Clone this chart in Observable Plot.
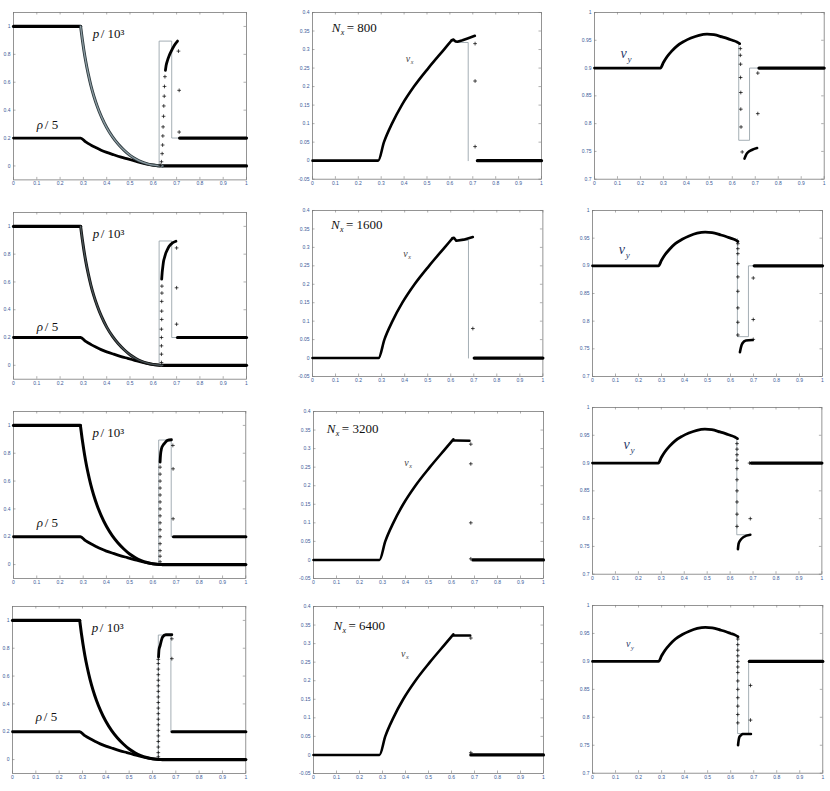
<!DOCTYPE html>
<html><head><meta charset="utf-8">
<script src="https://cdn.jsdelivr.net/npm/d3@7"></script>
<script src="https://cdn.jsdelivr.net/npm/@observablehq/plot@0.6"></script>
<style>
body{margin:0;background:#fff;}
#fig{position:relative;width:830px;height:791px;overflow:hidden;background:#fff;}
#fig svg{position:absolute;}
</style></head><body><div id="fig"></div>
<script>
// ---------- tick values and labels ----------
const xTicks = [0,0.1,0.2,0.3,0.4,0.5,0.6,0.7,0.8,0.9,1];
const xTickLabels = ["0","0.1","0.2","0.3","0.4","0.5","0.6","0.7","0.8","0.9","1"];
const rpTicks = [0,0.2,0.4,0.6,0.8,1];
const rpTickLabels = ["0","0.2","0.4","0.6","0.8","1"];
const vxTicks = [-0.05,0,0.05,0.1,0.15,0.2,0.25,0.3,0.35,0.4];
const vxTickLabels = ["-0.05","0","0.05","0.1","0.15","0.2","0.25","0.3","0.35","0.4"];
const vyTicks = [0.7,0.75,0.8,0.85,0.9,0.95,1];
const vyTickLabels = ["0.7","0.75","0.8","0.85","0.9","0.95","1"];
const resolutions = ["800","1600","3200","6400"];

// ---------- column 1: p/10^3 and rho/5 ----------
const pFlatLeft = [[0,1],[0.288,1]];
const pRarefaction = [[0.288,1],[0.295,0.91],[0.302,0.83],[0.31,0.75],[0.32,0.665],[0.332,0.578],[0.345,0.5],[0.36,0.425],[0.378,0.35],[0.4,0.275],[0.425,0.208],[0.45,0.155],[0.475,0.112],[0.5,0.076],[0.525,0.049],[0.55,0.029],[0.575,0.015],[0.6,0.006],[0.62,0.002],[0.64,0]];
const pFlatRight = [[0.64,0],[1,0]];
const rhoCurve = [[0,0.2],[0.288,0.2],[0.31,0.172],[0.333,0.149],[0.355,0.13],[0.376,0.113],[0.4,0.097],[0.43,0.08],[0.462,0.063],[0.49,0.05],[0.52,0.036],[0.55,0.022],[0.577,0.012],[0.6,0.005],[0.62,0.001],[0.628,0]];
const rhoExact = [[0.625,0],[0.625,0.895],[0.679,0.895],[0.679,0.2],[0.715,0.2]];

const rhoShell800 = [[0.652,0.685],[0.655,0.72],[0.661,0.757],[0.668,0.79],[0.675,0.816],[0.69,0.864],[0.704,0.895]];
const rhoMarks800 = [[0.63,0.005],[0.635,0.03],[0.638,0.088],[0.64,0.15],[0.641,0.215],[0.642,0.28],[0.644,0.356],[0.645,0.43],[0.647,0.5],[0.648,0.57],[0.65,0.64],[0.708,0.823],[0.711,0.542],[0.711,0.243]];
const rhoPost800 = [[0.713,0.2],[1,0.2]];

const rhoShell1600 = [[0.636,0.62],[0.638,0.666],[0.641,0.71],[0.644,0.749],[0.649,0.78],[0.654,0.809],[0.661,0.835],[0.668,0.857],[0.682,0.881],[0.697,0.893]];
const rhoMarks1600 = [[0.635,0.02],[0.635,0.08],[0.635,0.14],[0.635,0.2],[0.635,0.26],[0.636,0.33],[0.636,0.39],[0.636,0.46],[0.637,0.52],[0.637,0.57],[0.7,0.845],[0.7,0.558],[0.7,0.296]];
const rhoPost1600 = [[0.704,0.2],[1,0.2]];

const rhoShell3200 = [[0.631,0.736],[0.633,0.79],[0.637,0.832],[0.644,0.858],[0.651,0.873],[0.663,0.892],[0.68,0.897]];
const rhoMarks3200 = [[0.631,0.02],[0.631,0.06],[0.631,0.1],[0.631,0.15],[0.631,0.2],[0.631,0.25],[0.631,0.3],[0.631,0.35],[0.631,0.4],[0.631,0.45],[0.631,0.5],[0.631,0.55],[0.631,0.6],[0.631,0.65],[0.631,0.7],[0.686,0.856],[0.687,0.688],[0.687,0.329]];
const rhoPost3200 = [[0.689,0.2],[1,0.2]];

const rhoShell6400 = [[0.626,0.737],[0.628,0.79],[0.633,0.82],[0.638,0.855],[0.643,0.88],[0.657,0.897],[0.683,0.897]];
const rhoMarks6400 = [[0.625,0.02],[0.625,0.05],[0.625,0.09],[0.625,0.13],[0.625,0.17],[0.625,0.21],[0.625,0.25],[0.625,0.29],[0.625,0.33],[0.625,0.37],[0.625,0.41],[0.625,0.45],[0.625,0.49],[0.625,0.53],[0.625,0.57],[0.625,0.61],[0.625,0.65],[0.625,0.69],[0.625,0.72],[0.683,0.868],[0.683,0.725]];
const rhoPost6400 = [[0.684,0.2],[1,0.2]];

// ---------- column 2: v_x ----------
const vxCurve = [[0,0],[0.287,0],[0.312,0.05],[0.347,0.1],[0.39,0.15],[0.443,0.2],[0.506,0.25],[0.574,0.3],[0.608,0.325]];
const vxShell800 = [[0.608,0.325],[0.616,0.327],[0.624,0.322],[0.633,0.321],[0.655,0.325],[0.677,0.33],[0.709,0.337]];
const vxMarks800 = [[0.71,0.316],[0.71,0.215],[0.71,0.038]];
const vxPost800 = [[0.72,0],[1,0]];
const vxExact800 = [[0.633,0.319],[0.68,0.319],[0.68,0]];

const vxShell1600 = [[0.608,0.325],[0.614,0.326],[0.624,0.318],[0.656,0.321],[0.696,0.328]];
const vxMarks1600 = [[0.696,0.08]];
const vxPost1600 = [[0.702,0],[1,0]];
const vxExact1600 = [[0.628,0.319],[0.677,0.319],[0.677,0]];

const vxShell3200 = [[0.608,0.322],[0.62,0.322],[0.678,0.321]];
const vxMarks3200 = [[0.684,0.312],[0.684,0.259],[0.684,0.1],[0.684,0.003]];
const vxPost3200 = [[0.693,0],[1,0]];

const vxShell6400 = [[0.608,0.322],[0.62,0.322],[0.681,0.322]];
const vxMarks6400 = [[0.684,0.315],[0.684,0.006]];
const vxPost6400 = [[0.684,0],[1,0]];

// ---------- column 3: v_y ----------
const vyCurve = [[0,0.9],[0.287,0.9],[0.3,0.91],[0.315,0.92],[0.335,0.93],[0.36,0.94],[0.39,0.948],[0.42,0.954],[0.455,0.959],[0.49,0.961],[0.52,0.96],[0.556,0.956],[0.58,0.953],[0.6,0.95],[0.62,0.947],[0.632,0.944]];

const vyLower800 = [[0.653,0.737],[0.658,0.742],[0.665,0.747],[0.687,0.753],[0.708,0.756]];
const vyMarks800 = [[0.635,0.935],[0.635,0.923],[0.636,0.907],[0.636,0.883],[0.637,0.856],[0.637,0.826],[0.638,0.794],[0.643,0.749],[0.711,0.891],[0.711,0.818]];
const vyPost800 = [[0.716,0.9],[1,0.9]];
const vyExact800 = [[0.628,0.945],[0.628,0.77],[0.675,0.77],[0.675,0.9],[0.716,0.9]];

const vyLower1600 = [[0.641,0.744],[0.645,0.752],[0.652,0.76],[0.667,0.765],[0.696,0.766]];
const vyMarks1600 = [[0.632,0.94],[0.632,0.931],[0.632,0.922],[0.632,0.904],[0.632,0.88],[0.632,0.854],[0.632,0.824],[0.632,0.798],[0.632,0.775],[0.699,0.878],[0.699,0.803],[0.699,0.767]];
const vyPost1600 = [[0.703,0.9],[1,0.9]];
const vyExact1600 = [[0.63,0.949],[0.63,0.772],[0.678,0.772],[0.678,0.9],[0.703,0.9]];

const vyLower3200 = [[0.634,0.745],[0.637,0.755],[0.644,0.761],[0.659,0.767],[0.688,0.771]];
const vyMarks3200 = [[0.63,0.935],[0.63,0.925],[0.63,0.915],[0.63,0.905],[0.63,0.89],[0.63,0.87],[0.63,0.85],[0.63,0.83],[0.63,0.808],[0.63,0.786],[0.688,0.8],[0.685,0.9]];
const vyPost3200 = [[0.692,0.9],[1,0.9]];
const vyExact3200 = [[0.629,0.946],[0.629,0.771],[0.688,0.771]];

const vyLower6400 = [[0.632,0.75],[0.635,0.76],[0.638,0.765],[0.645,0.768],[0.652,0.77],[0.688,0.77]];
const vyMarks6400 = [[0.631,0.94],[0.631,0.93],[0.631,0.92],[0.631,0.91],[0.631,0.9],[0.631,0.89],[0.631,0.88],[0.631,0.865],[0.631,0.85],[0.631,0.835],[0.631,0.82],[0.631,0.805],[0.631,0.79],[0.686,0.857],[0.686,0.795]];
const vyPost6400 = [[0.681,0.9],[1,0.9]];
const vyExact6400 = [[0.63,0.946],[0.63,0.771],[0.678,0.771],[0.678,0.9]];

// ---------- layout (pixel frames of each panel: left, right, top, bottom) ----------
const frames = [
  [[12.7,245.7,12.3,179.7],[311.7,540.7,12.3,179],[594,823.7,12.3,179]],
  [[12.7,245.7,212.3,379],[312.3,542.7,210,376],[591.7,821.7,210,376]],
  [[12.7,245,411,578],[313.3,543.3,411,578],[592.3,821.7,407.3,574]],
  [[11.7,245,606,773],[313.3,543.3,606,773],[591.7,822,605,772.7]]
];
const COL = {tick:"#3b5a98", frame:"#7a7a7a", exact:"#8e9aa2"};
const SERIF = "Liberation Serif, Times New Roman, serif";
const pStyle = [{outer:"#2e3a3e", inner:"#8c9ca3"},{outer:"#111", inner:"#4a5558"},{outer:"#000"},{outer:"#000"}];

const fig = document.getElementById("fig");
const X = d => d[0], Y = d => d[1];

function makePanel(frame, cfg) {
  const [L,R,T,B] = frame;
  const ml = Math.min(26, Math.floor(L)), mr = 4, mt = 4, mb = 10;
  const iw = R - L, ih = B - T, tk = 2.5;
  const marks = [
    Plot.ruleX(xTicks, {x: d => d, insetTop: ih - tk, stroke: COL.frame, strokeWidth: 0.6}),
    Plot.ruleX(xTicks, {x: d => d, insetBottom: ih - tk, stroke: COL.frame, strokeWidth: 0.6}),
    Plot.ruleY(cfg.yTicks, {y: d => d, insetRight: iw - tk, stroke: COL.frame, strokeWidth: 0.6}),
    Plot.ruleY(cfg.yTicks, {y: d => d, insetLeft: iw - tk, stroke: COL.frame, strokeWidth: 0.6}),
    Plot.frame({stroke: COL.frame, strokeWidth: 0.8}),
    Plot.axisX(xTicks, {tickSize: 0, tickPadding: 2, fontSize: 5, color: COL.tick, label: null, fontFamily: "Liberation Sans, Arial, sans-serif",
      tickFormat: d => xTickLabels[xTicks.indexOf(d)]}),
    Plot.axisY(cfg.yTicks, {tickSize: 0, tickPadding: 3, fontSize: 5, color: COL.tick, label: null, fontFamily: "Liberation Sans, Arial, sans-serif",
      tickFormat: d => cfg.yLabels[cfg.yTicks.indexOf(d)]})
  ];
  for (const e of cfg.exact) marks.push(Plot.line(e, {x: X, y: Y, stroke: COL.exact, strokeWidth: 0.8}));
  for (const s of cfg.lines) {
    marks.push(Plot.line(s.data, {x: X, y: Y, stroke: s.stroke || "#000", strokeWidth: s.w || 3, curve: s.curve || "linear", strokeLinejoin: "round"}));
    if (s.inner) marks.push(Plot.line(s.data, {x: X, y: Y, stroke: s.inner, strokeWidth: 1.3, curve: s.curve || "linear"}));
  }
  for (const m of cfg.marks) marks.push(Plot.dot(m, {x: X, y: Y, symbol: "plus", r: 1.3, stroke: "#000", strokeWidth: 0.7}));
  for (const t of cfg.texts) marks.push(Plot.text([t.text], {x: () => t.x, y: () => t.y, text: d => d, dx: t.dx || 0, dy: t.dy || 0,
      fontSize: t.size, fontFamily: SERIF, fontStyle: t.italic ? "italic" : "normal", textAnchor: "start", lineAnchor: "bottom", fill: t.fill || "#111"}));
  const svg = Plot.plot({
    width: iw + ml + mr, height: ih + mt + mb,
    marginLeft: ml, marginRight: mr, marginTop: mt, marginBottom: mb,
    x: {domain: [0, 1]}, y: {domain: cfg.yDomain},
    style: {background: "transparent", overflow: "visible"},
    marks
  });
  svg.style.position = "absolute";
  svg.style.left = (L - ml) + "px";
  svg.style.top = (T - mt) + "px";
  fig.appendChild(svg);
}

const rhoSets = [
  [rhoShell800, rhoMarks800, rhoPost800],
  [rhoShell1600, rhoMarks1600, rhoPost1600],
  [rhoShell3200, rhoMarks3200, rhoPost3200],
  [rhoShell6400, rhoMarks6400, rhoPost6400]
];
const vxSets = [
  [vxShell800, vxMarks800, vxPost800, [vxExact800]],
  [vxShell1600, vxMarks1600, vxPost1600, [vxExact1600]],
  [vxShell3200, vxMarks3200, vxPost3200, []],
  [vxShell6400, vxMarks6400, vxPost6400, []]
];
const vySets = [
  [vyLower800, vyMarks800, vyPost800, vyExact800],
  [vyLower1600, vyMarks1600, vyPost1600, vyExact1600],
  [vyLower3200, vyMarks3200, vyPost3200, vyExact3200],
  [vyLower6400, vyMarks6400, vyPost6400, vyExact6400]
];
const rhoLabelY = [0.268, 0.25, 0.27, 0.275];
const nxPos = [[0.084,0.347],[0.08,0.35],[0.058,0.343],[0.087,0.337]];
const vxPos = [[0.407,0.266],[0.394,0.273],[0.395,0.254],[0.38,0.263]];
const vyPos = [[0.113,0.918],[0.114,0.922],[0.135,0.925],[0.145,0.925]];
const vySize = [14, 14, 14, 10];

for (let r = 0; r < 4; r++) {
  const [shell, rmarks, post] = rhoSets[r];
  const ps = pStyle[r];
  makePanel(frames[r][0], {
    yDomain: [-0.1, 1.1], yTicks: rpTicks, yLabels: rpTickLabels,
    exact: [rhoExact],
    lines: [
      {data: rhoCurve, curve: "monotone-x", w: 2.8},
      {data: shell, curve: "monotone-x", w: 2.8},
      {data: post, w: 3.2},
      {data: pFlatLeft, w: 3.2},
      {data: pFlatRight, w: 3.2},
      {data: pRarefaction, curve: "monotone-x", w: 3, stroke: ps.outer, inner: ps.inner}
    ],
    marks: [rmarks],
    texts: [
      {text: "p", x: 0.34, y: 0.92, size: 13, italic: true},
      {text: "/ 10³", x: 0.34, y: 0.92, size: 13, dx: 8},
      {text: "ρ", x: 0.1, y: rhoLabelY[r], size: 13, italic: true},
      {text: "/ 5", x: 0.1, y: rhoLabelY[r], size: 13, dx: 8}
    ]
  });

  const [vs, vm, vp, ve] = vxSets[r];
  makePanel(frames[r][1], {
    yDomain: [-0.05, 0.4], yTicks: vxTicks, yLabels: vxTickLabels,
    exact: ve,
    lines: [
      {data: vxCurve, curve: "monotone-x", w: 2.6},
      {data: vs, w: 2.6},
      {data: vp, w: 3.2}
    ],
    marks: [vm],
    texts: [
      {text: "N", x: nxPos[r][0], y: nxPos[r][1], size: 13, italic: true},
      {text: "x", x: nxPos[r][0], y: nxPos[r][1], size: 8, italic: true, dx: 9, dy: 3},
      {text: "= " + resolutions[r], x: nxPos[r][0], y: nxPos[r][1], size: 13, dx: 15},
      {text: "v", x: vxPos[r][0], y: vxPos[r][1], size: 10, italic: true, fill: "#444"},
      {text: "x", x: vxPos[r][0], y: vxPos[r][1], size: 6, italic: true, dx: 5, dy: 2, fill: "#444"}
    ]
  });

  const [yl, ym, yp, ye] = vySets[r];
  makePanel(frames[r][2], {
    yDomain: [0.7, 1], yTicks: vyTicks, yLabels: vyTickLabels,
    exact: [ye],
    lines: [
      {data: vyCurve, curve: "monotone-x", w: 2.8},
      {data: yl, curve: "monotone-x", w: 2.6},
      {data: yp, w: 3.2}
    ],
    marks: [ym],
    texts: [
      {text: "v", x: vyPos[r][0], y: vyPos[r][1], size: vySize[r], italic: true, fill: "#2a3a6a"},
      {text: "y", x: vyPos[r][0], y: vyPos[r][1], size: vySize[r] * 0.65, italic: true, dx: vySize[r] * 0.5, dy: vySize[r] * 0.3, fill: "#2a3a6a"}
    ]
  });
}
</script>
</body></html>
